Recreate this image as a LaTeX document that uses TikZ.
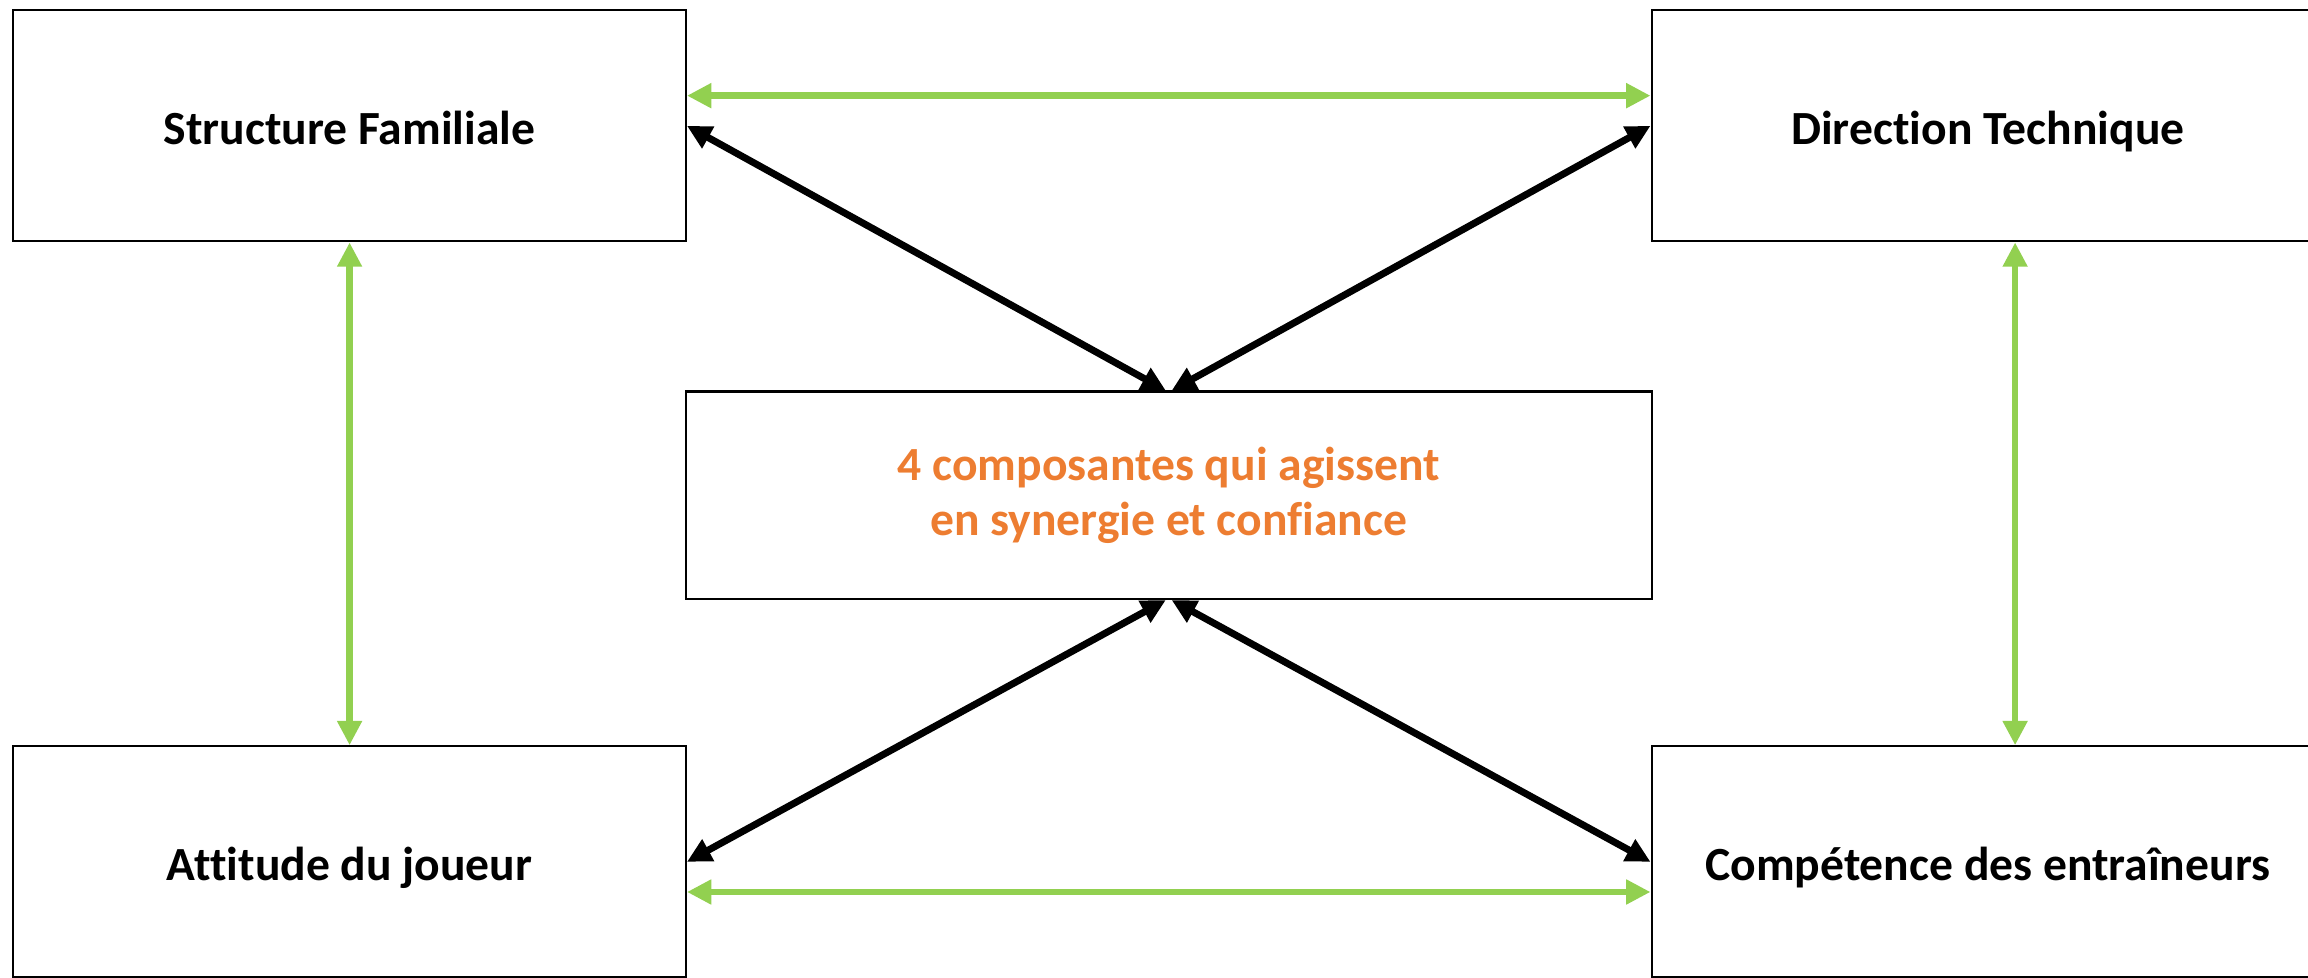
\documentclass[tikz,border=0pt]{standalone}
\usepackage{fontspec}
\setmainfont{Carlito}[Ligatures=NoCommon]
\usetikzlibrary{arrows.meta, calc}

\definecolor{vertlien}{HTML}{92D050}
\definecolor{orangetexte}{HTML}{ED7D31}

\begin{document}
\begin{tikzpicture}[line cap=round,line join=miter,>={Triangle[length=0.33cm,width=0.32cm]},x=1.0cm,y=1.0cm,
  bloc/.style={draw=black, line width=0.8pt, minimum width=9.14cm, minimum height=3.14cm,
    text height=0.55cm, text depth=0.05cm, font=\fontsize{18.4}{21}\selectfont\bfseries},
  lienvert/.style={<->, draw=vertlien, line width=2.6pt},
  liennoir/.style={<->, draw=black, line width=2.7pt}]
\clip(0, 0) rectangle (31.36, 13.28);

\node[bloc] (SF) at (4.75, 11.57) {Structure Familiale};
\node[bloc] (DT) at (27.01, 11.57) {Direction Technique};
\node[bloc] (AJ) at (4.75, 1.57) {Attitude du joueur};
\node[bloc] (CE) at (27.01, 1.57) {Compétence des entraîneurs};
\node[bloc, minimum width=13.12cm, minimum height=2.82cm, text height=, text depth=, text=orangetexte, align=center] (C) at (15.88, 6.55)
  {4 composantes qui agissent\\en synergie et confiance};

\draw[lienvert] ([yshift=0.41cm]SF.east) -- ([yshift=0.41cm]DT.west);
\draw[lienvert] ([yshift=-0.41cm]AJ.east) -- ([yshift=-0.41cm]CE.west);
\draw[lienvert] (SF.south) -- (AJ.north);
\draw[lienvert] ([xshift=0.37cm]DT.south) -- ([xshift=0.37cm]CE.north);

\draw[liennoir] (SF.east) -- ([xshift=-0.04cm]C.north);
\draw[liennoir] (DT.west) -- ([xshift=0.04cm]C.north);
\draw[liennoir] ([xshift=-0.04cm]C.south) -- (AJ.east);
\draw[liennoir] ([xshift=0.04cm]C.south) -- (CE.west);

\end{tikzpicture}
\end{document}
